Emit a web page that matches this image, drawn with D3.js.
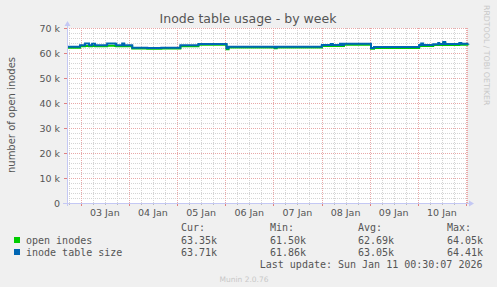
<!DOCTYPE html>
<html>
<head>
<meta charset="utf-8">
<script src="https://cdn.jsdelivr.net/npm/d3@7"></script>
<style>
  body { margin: 0; background: #f0f0f0; }
  svg { display: block; font-family: "DejaVu Sans", sans-serif; }
  .mono { font-family: "DejaVu Sans Mono", monospace; font-size: 10px; fill: #555; }
  .grid { shape-rendering: crispEdges; }
</style>
</head>
<body>
<svg id="chart" width="497" height="287"></svg>
<script>
// hours since the left edge of the graph (Jan 2 17:10 UTC)
const hours = [0, 6.5, 9, 11, 12.5, 14, 20, 24, 24.5, 27.5, 28.5, 32.5, 40, 47, 56.5, 65.5,
  79.5, 80.5, 103.5, 104.5, 127, 131.5, 132.5, 136, 137, 138, 151.5, 153, 175.5, 176.5,
  177.5, 182.5, 185, 185.5, 187.5, 188.5, 195.5, 196.5, 200];
const openInodes = [62.15, 62.75, 62.85, 62.75, 62.8, 62.7, 62.9, 62.85, 62.75, 62.8, 62.75, 61.8, 61.7, 61.8, 62.75, 63.3,
  61.5, 62.2, 61.9, 62.2, 62.8, 62.95, 62.85, 63.0, 62.85, 63.35, 61.7, 62.05, 62.85, 62.9,
  62.85, 63.2, 63.25, 63.2, 64.05, 63.25, 63.3, 63.35, 63.35];
const tableSize = [62.5, 63.1, 63.8, 63.15, 63.7, 63.1, 63.8, 63.7, 63.15, 63.8, 63.1, 62.15, 62.05, 62.15, 63.1, 63.65,
  61.86, 62.55, 62.25, 62.55, 63.2, 63.6, 63.2, 63.7, 63.2, 63.7, 62.05, 62.4, 63.2, 63.8,
  63.2, 63.55, 64.0, 63.6, 64.41, 63.6, 64.0, 63.7, 63.71];

const yTicks = [0, 10, 20, 30, 40, 50, 60, 70];
const dayLabels = ['03 Jan', '04 Jan', '05 Jan', '06 Jan', '07 Jan', '08 Jan', '09 Jan', '10 Jan'];

const legendNames = ['open inodes', 'inode table size'];
const legendColors = ['#00cc00', '#0066b3'];
const legendCur = ['63.35k', '63.71k'];
const legendMin = ['61.50k', '61.86k'];
const legendAvg = ['62.69k', '63.05k'];
const legendMax = ['64.05k', '64.41k'];

const start = Date.UTC(2026, 0, 2, 17, 10);
const end = Date.UTC(2026, 0, 11, 0, 30);

const svg = d3.select('#chart');
const pLeft = 67, pRight = 467, pTop = 28, pBottom = 203;

const x = d3.scaleUtc().domain([start, end]).range([pLeft, pRight]);
const y = d3.scaleLinear().domain([0, 70]).range([pBottom, pTop]);

svg.append('rect').attr('x', 0).attr('y', 0).attr('width', 497).attr('height', 287).attr('fill', '#f0f0f0');
svg.append('rect').attr('x', pLeft).attr('y', pTop).attr('width', pRight - pLeft).attr('height', pBottom - pTop).attr('fill', '#fff');

const grid = svg.append('g').attr('class', 'grid');

// minor grid
const minorY = d3.range(0, 71, 2).filter((v) => v % 10 !== 0);
grid.selectAll('.hminor').data(minorY).join('line')
  .attr('x1', pLeft).attr('x2', pRight)
  .attr('y1', (d) => Math.round(y(d)) + 0.5).attr('y2', (d) => Math.round(y(d)) + 0.5)
  .attr('stroke', '#d4d4d4').attr('stroke-dasharray', '1,1');
const sixHours = d3.utcHour.every(6).range(new Date(start), new Date(end)).filter((d) => d.getUTCHours() !== 0);
grid.selectAll('.vminor').data(sixHours).join('line')
  .attr('x1', (d) => Math.round(x(d)) + 0.5).attr('x2', (d) => Math.round(x(d)) + 0.5)
  .attr('y1', pTop).attr('y2', pBottom)
  .attr('stroke', '#d4d4d4').attr('stroke-dasharray', '1,1');

// major grid
grid.selectAll('.hmajor').data(yTicks.filter((v) => v > 0)).join('line')
  .attr('x1', pLeft).attr('x2', pRight)
  .attr('y1', (d) => Math.round(y(d)) + 0.5).attr('y2', (d) => Math.round(y(d)) + 0.5)
  .attr('stroke', '#e8a8a8').attr('stroke-dasharray', '1,1');
const days = d3.utcDay.range(new Date(start), new Date(end));
grid.selectAll('.vmajor').data(days).join('line')
  .attr('x1', (d) => Math.round(x(d)) + 0.5).attr('x2', (d) => Math.round(x(d)) + 0.5)
  .attr('y1', pTop).attr('y2', pBottom)
  .attr('stroke', '#e8a8a8').attr('stroke-dasharray', '1,1');
grid.append('line').attr('x1', pRight + 0.5).attr('x2', pRight + 0.5).attr('y1', pTop).attr('y2', pBottom)
  .attr('stroke', '#e8a8a8').attr('stroke-dasharray', '1,1');

// small ticks under the x axis
grid.selectAll('.tminor').data(sixHours).join('line')
  .attr('x1', (d) => Math.round(x(d)) + 0.5).attr('x2', (d) => Math.round(x(d)) + 0.5)
  .attr('y1', pBottom).attr('y2', pBottom + 2).attr('stroke', '#bbb');
grid.selectAll('.tmajor').data(days).join('line')
  .attr('x1', (d) => Math.round(x(d)) + 0.5).attr('x2', (d) => Math.round(x(d)) + 0.5)
  .attr('y1', pBottom).attr('y2', pBottom + 3).attr('stroke', '#e08080');
grid.selectAll('.ytick').data(yTicks).join('line')
  .attr('x1', pLeft - 3).attr('x2', pLeft)
  .attr('y1', (d) => Math.round(y(d)) + 0.5).attr('y2', (d) => Math.round(y(d)) + 0.5)
  .attr('stroke', '#e08080');

// data lines
const points = hours.map((h, i) => ({ t: start + h * 3600e3, open: openInodes[i], table: tableSize[i] }));
const openLine = d3.line().x((d) => x(d.t)).y((d) => y(d.open)).curve(d3.curveStepAfter);
const tableLine = d3.line().x((d) => x(d.t)).y((d) => y(d.table)).curve(d3.curveStepAfter);
svg.append('path').attr('d', openLine(points)).attr('fill', 'none').attr('stroke', legendColors[0]).attr('stroke-width', 2);
svg.append('path').attr('d', tableLine(points)).attr('fill', 'none').attr('stroke', legendColors[1]).attr('stroke-width', 2);

// axes with arrows
const axisColor = '#c4c8f4';
svg.append('line').attr('x1', pLeft - 4).attr('x2', pRight + 2).attr('y1', pBottom + 0.5).attr('y2', pBottom + 0.5).attr('stroke', axisColor);
svg.append('path').attr('d', `M${pRight + 2},${pBottom - 2.5}L${pRight + 7},${pBottom + 0.5}L${pRight + 2},${pBottom + 3.5}Z`).attr('fill', axisColor);
svg.append('line').attr('x1', pLeft + 0.5).attr('x2', pLeft + 0.5).attr('y1', pBottom + 3).attr('y2', pTop - 2).attr('stroke', axisColor);
svg.append('path').attr('d', `M${pLeft - 2.5},${pTop - 2}L${pLeft + 0.5},${pTop - 7}L${pLeft + 3.5},${pTop - 2}Z`).attr('fill', axisColor);

// tick labels
svg.selectAll('.ylab').data(yTicks).join('text')
  .attr('x', 60).attr('y', (d) => y(d) + 3.5)
  .attr('text-anchor', 'end').attr('font-size', 9.5).attr('fill', '#555')
  .text((d) => (d === 0 ? '0' : d + ' k'));
svg.selectAll('.xlab').data(days.slice(0, dayLabels.length)).join('text')
  .attr('x', (d) => x(d3.utcHour.offset(d, 12))).attr('y', 215.5)
  .attr('text-anchor', 'middle').attr('font-size', 9.5).attr('fill', '#555')
  .text((d, i) => dayLabels[i]);

// titles
svg.append('text').attr('x', 248).attr('y', 23).attr('text-anchor', 'middle')
  .attr('font-size', 12.5).attr('fill', '#555').text('Inode table usage - by week');
svg.append('text').attr('transform', 'translate(15,115) rotate(-90)').attr('text-anchor', 'middle')
  .attr('font-size', 10).attr('fill', '#555').text('number of open inodes');
svg.append('text').attr('transform', 'translate(484,5) rotate(90)').attr('text-anchor', 'start')
  .attr('font-size', 7.8).attr('fill', '#c8c8c8').text('RRDTOOL / TOBI OETIKER');

// legend
svg.append('text').attr('class', 'mono').attr('x', 181).attr('y', 231).text('Cur:');
svg.append('text').attr('class', 'mono').attr('x', 270).attr('y', 231).text('Min:');
svg.append('text').attr('class', 'mono').attr('x', 358).attr('y', 231).text('Avg:');
svg.append('text').attr('class', 'mono').attr('x', 447).attr('y', 231).text('Max:');
legendNames.forEach((name, i) => {
  const ly = 243.5 + i * 12;
  svg.append('rect').attr('x', 14).attr('y', ly - 6.5).attr('width', 6).attr('height', 6).attr('fill', legendColors[i]);
  svg.append('text').attr('class', 'mono').attr('x', 26).attr('y', ly).text(name);
  svg.append('text').attr('class', 'mono').attr('x', 181).attr('y', ly).text(legendCur[i]);
  svg.append('text').attr('class', 'mono').attr('x', 270).attr('y', ly).text(legendMin[i]);
  svg.append('text').attr('class', 'mono').attr('x', 358).attr('y', ly).text(legendAvg[i]);
  svg.append('text').attr('class', 'mono').attr('x', 447).attr('y', ly).text(legendMax[i]);
});
svg.append('text').attr('class', 'mono').attr('x', 482.5).attr('y', 267.5).attr('text-anchor', 'end')
  .text('Last update: Sun Jan 11 00:30:07 2026');
svg.append('text').attr('x', 244).attr('y', 282).attr('text-anchor', 'middle')
  .attr('font-size', 7.5).attr('fill', '#c8c8c8').text('Munin 2.0.76');
</script>
</body>
</html>
